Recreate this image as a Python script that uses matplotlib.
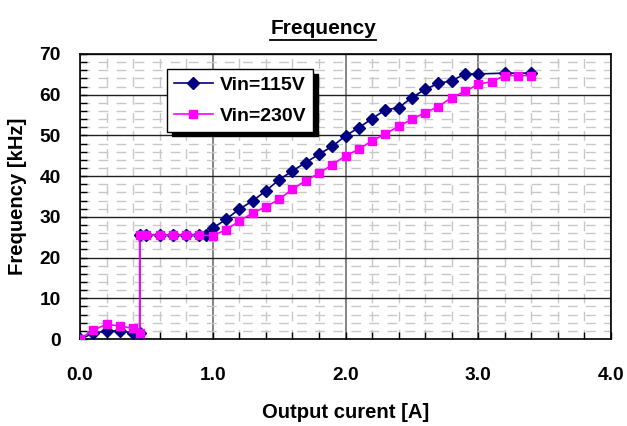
import matplotlib
matplotlib.use("Agg")
import matplotlib.pyplot as plt
from matplotlib.ticker import MultipleLocator, FormatStrFormatter
from matplotlib.lines import Line2D

# data
x_115 = [0.0, 0.1, 0.2, 0.3, 0.4, 0.45, 0.45, 0.5, 0.6, 0.7, 0.8, 0.9, 0.95,
         1.0, 1.1, 1.2, 1.3, 1.4, 1.5, 1.6, 1.7, 1.8, 1.9, 2.0, 2.1, 2.2, 2.3,
         2.4, 2.5, 2.6, 2.7, 2.8, 2.9, 3.0, 3.2, 3.4]
f_115 = [0.0, 1.4, 2.0, 2.0, 1.5, 1.4, 25.5, 25.5, 25.5, 25.5, 25.5, 25.5, 25.5,
         27.2, 29.4, 31.9, 33.9, 36.4, 39.1, 41.3, 43.3, 45.4, 47.3, 49.9, 51.9, 54.1, 56.3,
         56.8, 59.3, 61.3, 62.8, 63.4, 65.1, 65.1, 65.3, 65.3]

x_230 = [0.0, 0.1, 0.2, 0.3, 0.4, 0.45, 0.45, 0.5, 0.6, 0.7, 0.8, 0.9, 1.0,
         1.1, 1.2, 1.3, 1.4, 1.5, 1.6, 1.7, 1.8, 1.9, 2.0, 2.1, 2.2, 2.3,
         2.4, 2.5, 2.6, 2.7, 2.8, 2.9, 3.0, 3.1, 3.2, 3.3, 3.4]
f_230 = [0.0, 2.2, 3.6, 3.2, 2.6, 1.4, 25.5, 25.5, 25.5, 25.5, 25.5, 25.5, 25.4,
         26.8, 29.0, 30.9, 32.5, 34.3, 36.8, 38.9, 40.7, 42.8, 45.0, 46.6, 48.7, 50.4,
         52.2, 54.0, 55.6, 57.1, 59.3, 60.8, 62.6, 63.2, 64.7, 64.7, 64.7]

labels = ["Vin=115V", "Vin=230V"]

plt.rcParams['font.family'] = ['Liberation Sans', 'DejaVu Sans']
plt.rcParams['font.weight'] = 'bold'

fig = plt.figure(figsize=(6.27, 4.26), dpi=100)
ax = fig.add_axes([80/627, 1-339/426, 531/627, 285/426])

ax.plot(x_115, f_115, color='#000080', lw=1.2, marker='D', ms=6.3, label=labels[0], zorder=3)
ax.plot(x_230, f_230, color='#FF00FF', lw=1.2, marker='s', ms=5.8, label=labels[1], zorder=4)

ax.set_xlim(0, 4)
ax.set_ylim(0, 70)
ax.xaxis.set_major_locator(MultipleLocator(1.0))
ax.xaxis.set_minor_locator(MultipleLocator(0.2))
ax.yaxis.set_major_locator(MultipleLocator(10))
ax.yaxis.set_minor_locator(MultipleLocator(2))
ax.xaxis.set_major_formatter(FormatStrFormatter('%.1f'))

# grid like the spreadsheet chart
ax.grid(which='minor', color='#C8C8C8', ls=(0, (7, 6)), lw=1.0, zorder=0)
ax.grid(which='major', axis='y', color='#202020', lw=1.0, zorder=1)
ax.grid(which='major', axis='x', color='#707070', lw=1.2, zorder=1)

ax.tick_params(which='both', direction='in', labelsize=13.8)
ax.tick_params(which='major', length=5, width=1)
ax.tick_params(which='minor', length=5, width=1)
ax.tick_params(axis='x', which='major', pad=20)
ax.tick_params(axis='y', which='major', pad=14)
for s in ax.spines.values():
    s.set_linewidth(1.2)

ax.set_xlabel('Output curent [A]', fontsize=14.6, fontweight='bold')
ax.set_ylabel('Frequency [kHz]', fontsize=14.6, fontweight='bold')
ax.xaxis.set_label_coords(0.5, (339-412)/285)
ax.yaxis.set_label_coords((18-80)/531, 0.5)
ax.xaxis.label.set_va('center')
ax.yaxis.label.set_va('center')

leg = ax.legend(loc='upper left', bbox_to_anchor=(0.164, 0.947), borderaxespad=0,
                fontsize=14, fancybox=False, edgecolor='black', framealpha=1,
                handlelength=2.0, handletextpad=0.35, borderpad=0.35, labelspacing=0.7,
                shadow={'ox': 3.5, 'oy': -3.5, 'color': 'black', 'alpha': 1})
leg.get_frame().set_linewidth(1.0)

# underlined title
t = fig.text(323/627, 1-34/426, 'Frequency', ha='center', va='baseline',
             fontsize=15, fontweight='bold')
fig.canvas.draw()
bb = t.get_window_extent()
yl = 1 - 40/426
fig.add_artist(Line2D([bb.x0/627, bb.x1/627], [yl, yl], color='black', lw=1.3))

fig.savefig('out.png', dpi=100)
